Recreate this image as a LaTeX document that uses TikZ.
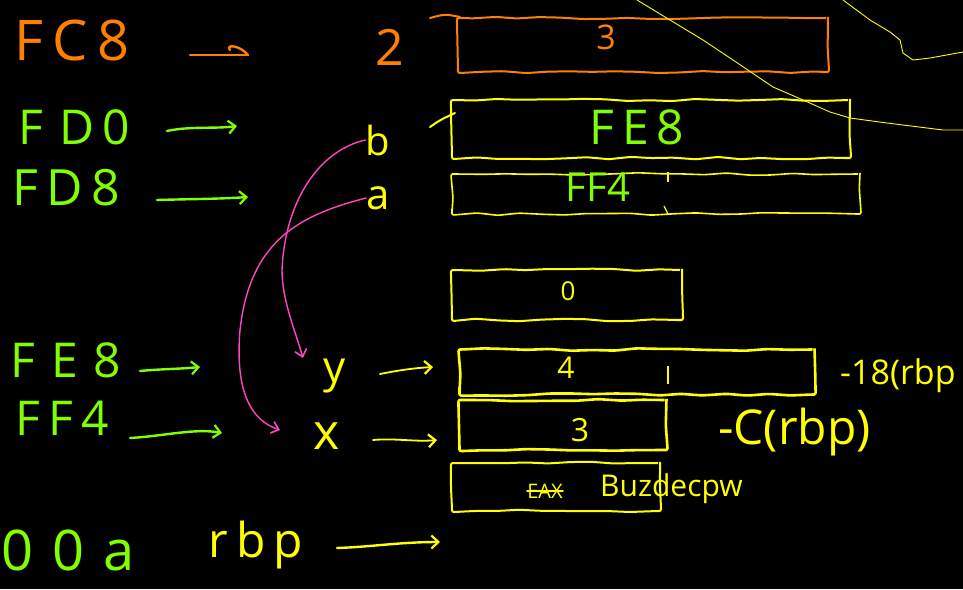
\documentclass[tikz,border=0pt]{standalone}
\usepackage{fontspec}
\setmainfont{Open Sans}
\usetikzlibrary{arrows.meta,decorations.pathmorphing}
\definecolor{inkorange}{HTML}{FF8000}
\definecolor{inkgreen}{HTML}{80FF00}
\definecolor{inkyellow}{HTML}{FFFF00}
\definecolor{inkpink}{HTML}{FF44C4}
\pgfmathsetseed{11}
\newcommand{\fs}[1]{\fontsize{#1}{#1}\selectfont}
\begin{document}
\begin{tikzpicture}[x=1pt,y=-1pt,
  hand/.style={decorate,decoration={random steps,segment length=22pt,amplitude=1.3pt},rounded corners=2pt},
  cell/.style={draw=inkyellow,line width=2pt,hand,rectangle,inner sep=0pt},
  txt/.style={inner sep=0pt},
  pen/.style={line width=2.4pt,line cap=round,line join=round},
  tip/.style={-{Straight Barb[length=7pt,width=13pt,line width=2.2pt]}},
  thin/.style={draw=inkyellow,line width=0.9pt},
  pinkpen/.style={draw=inkpink,line width=1.4pt,line cap=round,
    -{Straight Barb[length=7pt,width=12pt,line width=1.6pt]}}]
\fill[black] (0,0) rectangle (963,589);
\useasboundingbox (0,0) rectangle (963,589);

% ---- memory cells ----
\node[cell,draw=inkorange,minimum width=370pt,minimum height=54pt] (c1) at (643,45) {};
\node[cell,minimum width=398pt,minimum height=58pt] (c2) at (651,129) {};
\node[cell,line width=1.6pt,minimum width=408pt,minimum height=40pt] (c3) at (656,194) {};
\node[cell,minimum width=230pt,minimum height=50pt] (c4) at (567,295) {};
\node[cell,line width=2.6pt,minimum width=355pt,minimum height=45pt] (c5) at (637,372) {};
\node[cell,line width=2.6pt,minimum width=207pt,minimum height=50pt] (c6) at (563,425) {};
\node[cell,minimum width=208pt,minimum height=48pt] (c7) at (556,487) {};
\draw[inkyellow,line width=1.2pt] (668,366) -- (668,384);
\draw[inkyellow,line width=1.2pt] (668,172) -- (668,182);
\draw[inkyellow,line width=1.2pt] (664,206) -- (668,214);
\draw[inkorange,line width=2pt,line cap=round] (430,18) .. controls (445,14) .. (460,17);
\draw[inkyellow,line width=2pt,line cap=round] (430,127) .. controls (440,120) .. (455,113);

% ---- cell contents ----
\node[txt,inkorange,font=\fs{34}] (v1) at (606,37) {3};
\node[txt,inkgreen,font=\fs{48}] (v2) at (637,127) {F\,E\,8};
\node[txt,inkgreen,font=\fs{40}] (v3) at (598,187) {FF4};
\node[txt,inkyellow,font=\fs{26}] (v4) at (568,291) {0};
\node[txt,inkyellow,font=\fs{30}] (v5) at (566,368) {4};
\node[txt,inkyellow,font=\fs{32}] (v6) at (580,430) {3};
\node[txt,inkyellow,font=\fs{20}] (v7) at (545,491) {EAX};
\draw[inkyellow,line width=2pt,line cap=round] (v7.west) -- (v7.east);
\node[txt,inkyellow,font=\fs{30},anchor=west] (v8) at (600,489) {Buzdecpw};

% ---- addresses ----
\node[txt,inkorange,font=\fs{56}] (a1) at (72,40) {F\,C\,8};
\node[txt,inkgreen,font=\fs{48}] (a2) at (74,127) {F\,\,D\,0};
\node[txt,inkgreen,font=\fs{50}] (a3) at (66,188) {F\,D\,8};
\node[txt,inkgreen,font=\fs{48}] (a4) at (66,360) {F\,\,E\,\,8};
\node[txt,inkgreen,font=\fs{48}] (a5) at (62,418) {F\,F\,4};
\node[txt,inkgreen,font=\fs{56}] (a6) at (68,550) {0\,\,0\,\,a};

% ---- names ----
\node[txt,inkorange,font=\fs{50}] (n1) at (390,47) {2};
\node[txt,inkyellow,font=\fs{40}] (n2) at (378,140) {b};
\node[txt,inkyellow,font=\fs{42}] (n3) at (378,198) {a};
\node[txt,inkyellow,font=\fs{44}] (n4) at (335,376) {y};
\node[txt,inkyellow,font=\fs{50}] (n5) at (327,436) {x};
\node[txt,inkyellow,font=\fs{48}] (n6) at (256,545) {r\,b\,p};

% ---- offsets ----
\node[txt,inkyellow,font=\fs{34},anchor=west] (o1) at (840,376) {-18(rbp};
\node[txt,inkyellow,font=\fs{48},anchor=west] (o2) at (718,432) {-C(rbp)};

% ---- arrow end points ----
\coordinate (p1) at (190,55);  \coordinate (q1) at (248,55);
\coordinate (p2) at (167,131); \coordinate (q2) at (237,126);
\coordinate (p3) at (157,200); \coordinate (q3) at (248,197);
\coordinate (p4) at (140,371); \coordinate (q4) at (200,367);
\coordinate (p5) at (130,438); \coordinate (q5) at (222,433);
\coordinate (p6) at (380,374); \coordinate (q6) at (433,367);
\coordinate (p7) at (373,440); \coordinate (q7) at (437,440);
\coordinate (p8) at (337,548); \coordinate (q8) at (440,542);

\draw[pen,inkorange] (p1) -- (q1);
\draw[pen,inkorange] (q1) .. controls (240,45) and (225,44) .. (230,50);
\draw[pen,inkgreen,tip] (p2) .. controls (190,126) and (215,129) .. (q2);
\draw[pen,inkgreen,tip] (p3) .. controls (190,199) and (220,199) .. (q3);
\draw[pen,inkgreen,tip] (p4) .. controls (160,369) and (180,369) .. (q4);
\draw[pen,inkgreen,tip] (p5) .. controls (165,436) and (195,428) .. (q5);
\draw[pen,inkyellow,line width=1.8pt,tip] (p6) .. controls (400,370) and (415,368) .. (q6);
\draw[pen,inkyellow,line width=1.8pt,tip] (p7) .. controls (395,438) and (415,442) .. (q7);
\draw[pen,inkyellow,tip] (p8) .. controls (370,547) and (400,542) .. (q8);

% ---- pointer links ----
\draw[pinkpen] (n2.west) .. controls (320,150) and (285,200) .. (282,270)
  .. controls (282,300) and (295,330) .. (303,358);
\draw[pinkpen] (n3.west) .. controls (300,215) and (250,240) .. (240,330)
  .. controls (235,390) and (250,420) .. (280,430);

% ---- loose pen strokes ----
\draw[thin] (637,0) -- (670,20) -- (703,40) -- (733,60) -- (773,87) -- (803,100)
  -- (830,112) -- (850,118) -- (887,123) -- (943,130) -- (963,130);
\draw[thin] (843,0) -- (870,20) -- (890,32) -- (900,40) -- (903,53) -- (913,60)
  -- (930,58) -- (963,52);
\end{tikzpicture}
\end{document}
